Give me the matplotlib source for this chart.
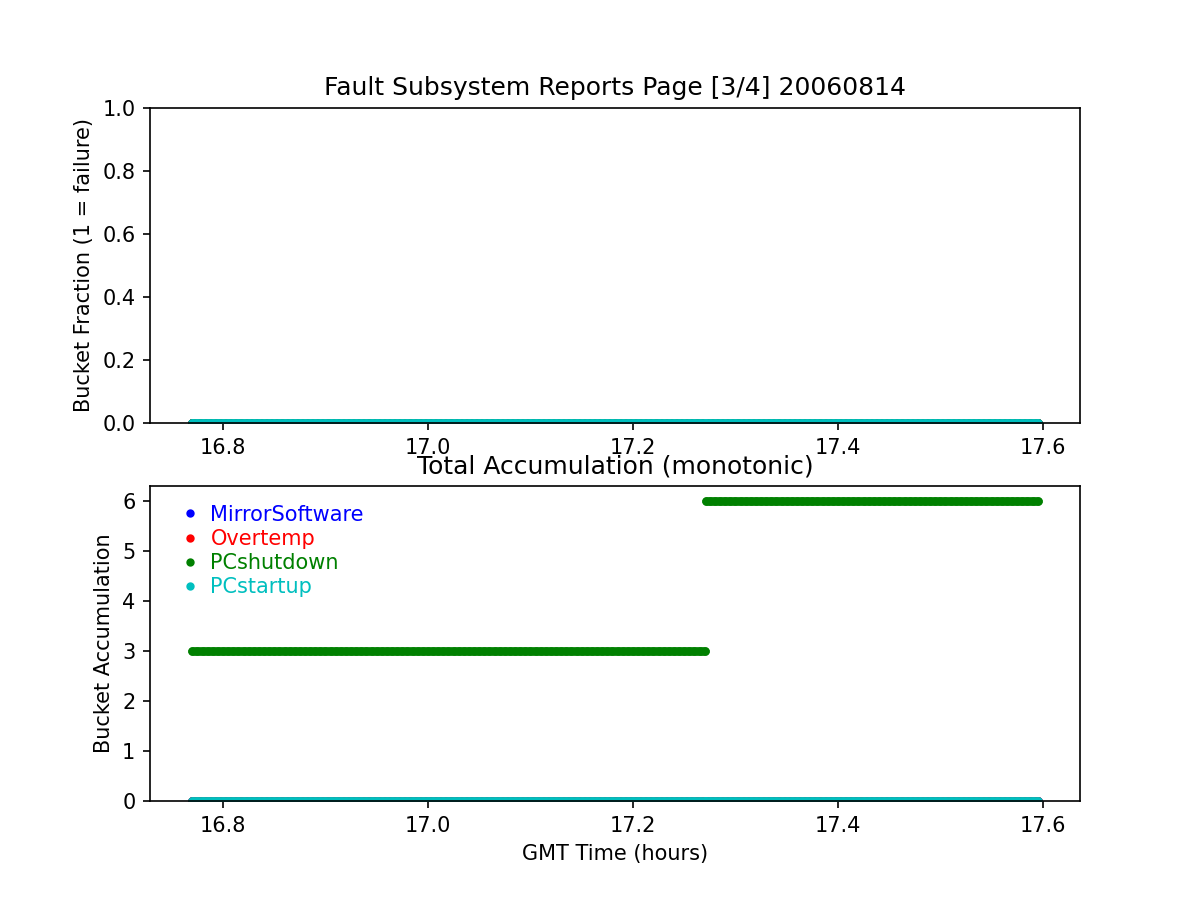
import matplotlib
matplotlib.use("Agg")
import matplotlib.pyplot as plt

# report times (GMT hours), first block of reports
times_a = [16.770, 16.775, 16.780, 16.785, 16.790, 16.795, 16.800, 16.805, 16.810, 16.815,
           16.820, 16.825, 16.830, 16.835, 16.840, 16.845, 16.850, 16.855, 16.860, 16.865,
           16.870, 16.875, 16.880, 16.885, 16.890, 16.895, 16.900, 16.905, 16.910, 16.915,
           16.920, 16.925, 16.930, 16.935, 16.940, 16.945, 16.950, 16.955, 16.960, 16.965,
           16.970, 16.975, 16.980, 16.985, 16.990, 16.995, 17.000, 17.005, 17.010, 17.015,
           17.020, 17.025, 17.030, 17.035, 17.040, 17.045, 17.050, 17.055, 17.060, 17.065,
           17.070, 17.075, 17.080, 17.085, 17.090, 17.095, 17.100, 17.105, 17.110, 17.115,
           17.120, 17.125, 17.130, 17.135, 17.140, 17.145, 17.150, 17.155, 17.160, 17.165,
           17.170, 17.175, 17.180, 17.185, 17.190, 17.195, 17.200, 17.205, 17.210, 17.215,
           17.220, 17.225, 17.230, 17.235, 17.240, 17.245, 17.250, 17.255, 17.260, 17.265,
           17.270]
# second block, after the second set of PC shutdowns
times_b = [17.271, 17.275, 17.280, 17.285, 17.290, 17.295, 17.300, 17.305, 17.310, 17.315,
           17.320, 17.325, 17.330, 17.335, 17.340, 17.345, 17.350, 17.355, 17.360, 17.365,
           17.370, 17.375, 17.380, 17.385, 17.390, 17.395, 17.400, 17.405, 17.410, 17.415,
           17.420, 17.425, 17.430, 17.435, 17.440, 17.445, 17.450, 17.455, 17.460, 17.465,
           17.470, 17.475, 17.480, 17.485, 17.490, 17.495, 17.500, 17.505, 17.510, 17.515,
           17.520, 17.525, 17.530, 17.535, 17.540, 17.545, 17.550, 17.555, 17.560, 17.565,
           17.570, 17.575, 17.580, 17.585, 17.590, 17.595]

buckets = ["MirrorSoftware", "Overtemp", "PCshutdown", "PCstartup"]
colors = ["b", "r", "g", "c"]

# fraction per bucket (all zero on this page), per block
fraction_a = {b: [0.0] * len(times_a) for b in buckets}
fraction_b = {b: [0.0] * len(times_b) for b in buckets}

# running accumulation per bucket, per block
accum_a = {"MirrorSoftware": [0] * len(times_a), "Overtemp": [0] * len(times_a),
           "PCshutdown": [3] * len(times_a), "PCstartup": [0] * len(times_a)}
accum_b = {"MirrorSoftware": [0] * len(times_b), "Overtemp": [0] * len(times_b),
           "PCshutdown": [6] * len(times_b), "PCstartup": [0] * len(times_b)}


def draw(ax, vals_a, vals_b):
    for name, col in zip(buckets, colors):
        ax.plot(times_a + times_b, vals_a[name] + vals_b[name], ".", color=col, label=name)
        # the reports are so dense that the dots merge into a band
        for t, v in ((times_a, vals_a[name]), (times_b, vals_b[name])):
            ax.plot(t, v, "-", color=col, lw=4.2, solid_capstyle="round")


fig, (ax1, ax2) = plt.subplots(2, 1, figsize=(8, 6), dpi=150)

draw(ax1, fraction_a, fraction_b)
ax1.set_ylim(0, 1)
ax1.set_ylabel("Bucket Fraction (1 = failure)")
ax1.set_title("Fault Subsystem Reports Page [3/4] 20060814")

draw(ax2, accum_a, accum_b)
ax2.set_ylim(bottom=0)
ax2.set_ylabel("Bucket Accumulation")
ax2.set_xlabel("GMT Time (hours)")
ax2.set_title("Total Accumulation (monotonic)")

handles, labels = ax2.get_legend_handles_labels()
leg = ax2.legend(handles, labels, loc="upper left", frameon=False, numpoints=1,
                 handletextpad=0.0, labelspacing=0.2)
for txt, col in zip(leg.get_texts(), colors):
    txt.set_color(col)

plt.savefig("out.png", dpi=150)
